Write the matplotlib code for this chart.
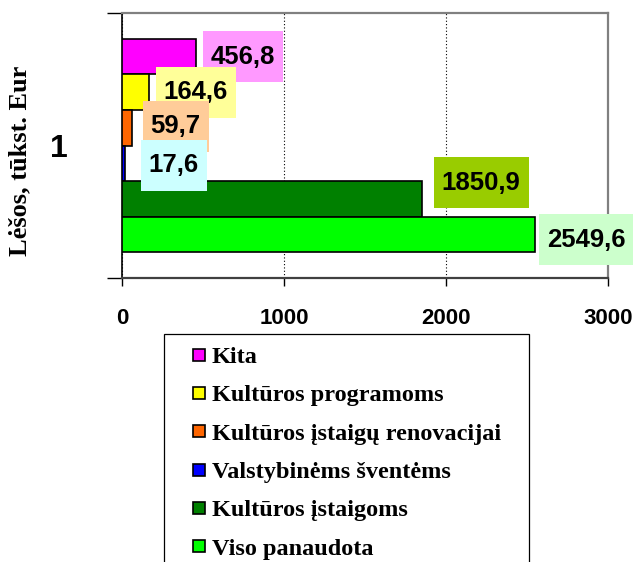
import matplotlib
matplotlib.use("Agg")
import matplotlib.pyplot as plt
from matplotlib.lines import Line2D
from matplotlib.path import Path

# data
categories = ["Kita", "Kultūros programoms", "Kultūros įstaigų renovacijai",
              "Valstybinėms šventėms", "Kultūros įstaigoms", "Viso panaudota"]
values = [456.8, 164.6, 59.7, 17.6, 1850.9, 2549.6]
value_labels = ["456,8", "164,6", "59,7", "17,6", "1850,9", "2549,6"]
group_label = "1"
xticks = [0, 1000, 2000, 3000]

bar_colors = ["#FF00FF", "#FFFF00", "#FF6600", "#0000FF", "#008000", "#00FF00"]
label_bg = ["#FF99FF", "#FFFF99", "#FFCC99", "#CCFFFF", "#99CC00", "#CCFFCC"]

# label offsets from the bar end, in pixels (x right, y down)
label_dx = [7, 7, 11, 16, 12, 4]
label_dy = [0, 0, -1.5, 2, -16, 5.5]

SANS = "Liberation Sans"
SERIF = "Liberation Serif"
W, H = 635, 562
px = 72 / 100  # pixel -> points at dpi 100
PH, PV = 0.31, 0.53  # label box padding, fraction of font size


def label_box(x0, y0, width, height, mutation_size):
    # rectangle with wider vertical than horizontal padding
    ph, pv = PH * mutation_size, PV * mutation_size
    return Path([(x0 - ph, y0 - pv), (x0 + width + ph, y0 - pv),
                 (x0 + width + ph, y0 + height + pv), (x0 - ph, y0 + height + pv),
                 (x0 - ph, y0 - pv)], closed=True)


fig = plt.figure(figsize=(W / 100, H / 100), dpi=100)
ax = fig.add_axes([122 / W, 1 - 278 / H, (608 - 122) / W, (278 - 13) / H])

n = len(values)
group = 0.804
bh = group / n
lab_size = 18.5
for k in range(n):
    y = 1 + group / 2 - bh * (k + 0.5)
    ax.barh(y, values[k], height=bh, color=bar_colors[k], edgecolor="black",
            linewidth=1.2, zorder=3)
    ax.annotate(value_labels[k], xy=(values[k], y),
                xytext=(label_dx[k] * px + PH * lab_size, -label_dy[k] * px),
                textcoords="offset points", ha="left", va="center",
                fontsize=lab_size, fontweight="bold", family=SANS, zorder=5,
                annotation_clip=False,
                bbox=dict(boxstyle=label_box, facecolor=label_bg[k],
                          edgecolor="none"))

ax.set_xlim(0, 3000)
ax.set_ylim(0.5, 1.5)
ax.set_xticks(xticks)
ax.set_xticklabels([str(t) for t in xticks], fontsize=16, fontweight="bold",
                   family=SANS)
ax.tick_params(axis="x", direction="out", length=8 * px, width=1, pad=16)
ax.set_yticks([1])
ax.set_yticklabels([group_label], fontsize=23, fontweight="bold", family=SANS)
ax.set_yticks([0.5, 1.5], minor=True)
ax.tick_params(axis="y", which="major", length=0, pad=39)
ax.tick_params(axis="y", which="minor", length=15 * px, width=1, direction="out")

ax.grid(axis="x", color="black", linestyle=(0, (1, 2)), linewidth=0.8, zorder=1)
ax.spines["left"].set_color("black")
ax.spines["left"].set_linewidth(1.2)
ax.spines["bottom"].set_color("#404040")
ax.spines["bottom"].set_linewidth(1.6)
for s in ("top", "right"):
    ax.spines[s].set_color("#808080")
    ax.spines[s].set_linewidth(1.6)

fig.text(20 / W, 1 - 161 / H, "Lėšos, tūkst. Eur", rotation=90, ha="center",
         va="center", fontsize=19, fontweight="bold", family=SERIF)

handles = [Line2D([], [], linestyle="none", marker="s", markersize=12 * px,
                  markerfacecolor=c, markeredgecolor="black", markeredgewidth=1.2)
           for c in bar_colors]
leg = fig.legend(handles, categories, loc="upper left",
                 bbox_to_anchor=(164 / W, 1 - 334 / H - 0.01, (529 - 164) / W, 0.01),
                 mode="expand", borderaxespad=0, borderpad=0.5,
                 prop=dict(family=SERIF, weight="bold", size=17.5),
                 handlelength=1.88, handletextpad=-0.42, labelspacing=0.67,
                 frameon=True, fancybox=False, edgecolor="black", framealpha=1)
leg.get_frame().set_linewidth(0.9)

fig.savefig("out.png", dpi=100, facecolor="white")
